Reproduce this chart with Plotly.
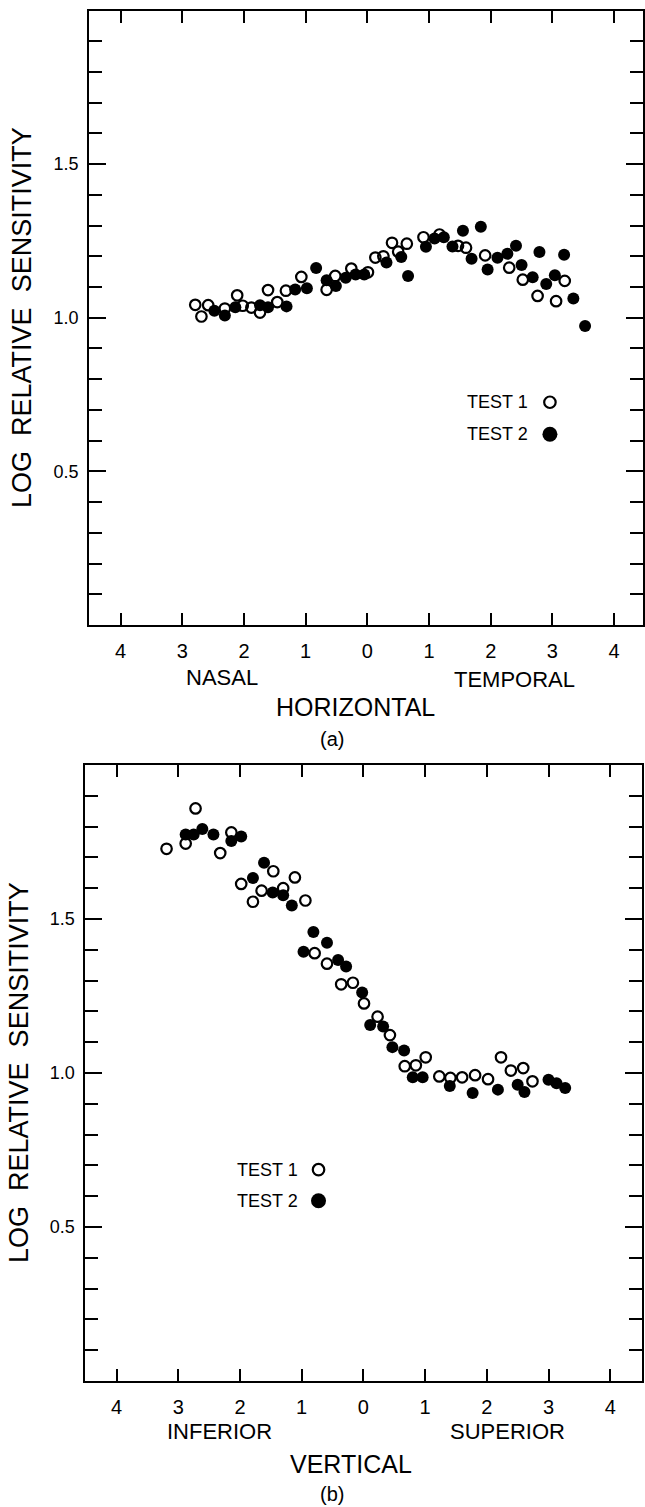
import plotly.graph_objects as go

# ---------------- data ----------------
# Panel (a): horizontal meridian (negative = nasal, positive = temporal), degrees
h_test1_x = [-2.79, -2.69, -2.58, -2.31, -2.11, -2.02, -1.88, -1.74, -1.61, -1.46, -1.32,
             -1.07, -0.66, -0.52, -0.26, 0.01, 0.13, 0.26, 0.40, 0.50, 0.64, 0.91, 1.17,
             1.47, 1.60, 1.91, 2.30, 2.52, 2.76, 3.06, 3.20]
h_test1_y = [1.042, 1.004, 1.041, 1.030, 1.073, 1.039, 1.033, 1.017, 1.090, 1.051, 1.088,
             1.133, 1.091, 1.136, 1.160, 1.148, 1.196, 1.200, 1.244, 1.215, 1.241, 1.262, 1.271,
             1.234, 1.228, 1.203, 1.163, 1.124, 1.071, 1.054, 1.120]
h_test2_x = [-2.48, -2.31, -2.14, -1.74, -1.61, -1.31, -1.17, -0.98, -0.83, -0.66, -0.51,
             -0.35, -0.19, -0.05, 0.31, 0.55, 0.66, 0.95, 1.09, 1.24, 1.38, 1.55, 1.69, 1.84,
             1.95, 2.11, 2.27, 2.41, 2.50, 2.68, 2.79, 2.90, 3.04, 3.19, 3.34, 3.53]
h_test2_y = [1.023, 1.007, 1.034, 1.041, 1.034, 1.037, 1.092, 1.096, 1.162, 1.122, 1.103,
             1.130, 1.141, 1.141, 1.180, 1.198, 1.136, 1.231, 1.258, 1.262, 1.232, 1.283, 1.192,
             1.296, 1.157, 1.195, 1.208, 1.234, 1.172, 1.132, 1.214, 1.110, 1.138, 1.205, 1.063,
             0.973]

# Panel (b): vertical meridian (negative = inferior, positive = superior), degrees
v_test1_x = [-3.19, -2.88, -2.72, -2.32, -2.14, -1.98, -1.79, -1.65, -1.46, -1.30, -1.11,
             -0.94, -0.79, -0.59, -0.36, -0.17, 0.01, 0.23, 0.43, 0.67, 0.85, 1.01, 1.23,
             1.41, 1.60, 1.81, 2.02, 2.23, 2.39, 2.59, 2.74]
v_test1_y = [1.728, 1.745, 1.859, 1.714, 1.781, 1.614, 1.556, 1.592, 1.655, 1.600, 1.635,
             1.560, 1.389, 1.355, 1.288, 1.293, 1.226, 1.183, 1.123, 1.022, 1.025, 1.051, 0.989,
             0.984, 0.986, 0.993, 0.980, 1.051, 1.008, 1.016, 0.973]
v_test2_x = [-2.88, -2.75, -2.61, -2.43, -2.14, -1.98, -1.79, -1.61, -1.47, -1.30, -1.16,
             -0.97, -0.81, -0.59, -0.41, -0.28, -0.02, 0.11, 0.32, 0.47, 0.66, 0.80, 0.96,
             1.40, 1.77, 2.18, 2.50, 2.61, 3.00, 3.13, 3.27]
v_test2_y = [1.774, 1.774, 1.792, 1.774, 1.753, 1.768, 1.633, 1.683, 1.586, 1.577, 1.544,
             1.394, 1.458, 1.423, 1.367, 1.346, 1.261, 1.156, 1.151, 1.084, 1.073, 0.986, 0.986,
             0.958, 0.935, 0.946, 0.962, 0.938, 0.978, 0.967, 0.951]

x_tickvals = [-4, -3, -2, -1, 0, 1, 2, 3, 4]
x_ticktext = ["4", "3", "2", "1", "0", "1", "2", "3", "4"]
y_tickvals = [0.5, 1.0, 1.5]
y_ticktext = ["0.5", "1.0", "1.5"]
y_minor = [round(i * 0.1, 1) for i in range(1, 20) if i not in (5, 10, 15)]

FONT = "Liberation Sans, Arial, sans-serif"
W, H = 645, 1507

fig = go.Figure()

def add_points(xs, ys, xa, ya, filled):
    fig.add_trace(go.Scatter(
        x=xs, y=ys, mode="markers", xaxis=xa, yaxis=ya, showlegend=False,
        cliponaxis=False, hoverinfo="skip",
        marker=dict(symbol="circle" if filled else "circle-open",
                    size=12 if filled else 10.5, color="black",
                    line=dict(color="black", width=0 if filled else 2.2)),
    ))

add_points(h_test2_x, h_test2_y, "x", "y", True)
add_points(h_test1_x, h_test1_y, "x", "y", False)
add_points(v_test2_x, v_test2_y, "x2", "y2", True)
add_points(v_test1_x, v_test1_y, "x2", "y2", False)

# legend symbols (inside each panel)
legend_a = dict(x=2.96, y1=0.725, y2=0.621, tx=2.63)
legend_b = dict(x=-0.727, y1=0.686, y2=0.585, tx=-1.03)
for leg, xa, ya in [(legend_a, "x", "y"), (legend_b, "x2", "y2")]:
    fig.add_trace(go.Scatter(x=[leg["x"]], y=[leg["y1"]], mode="markers", xaxis=xa, yaxis=ya,
                             showlegend=False, hoverinfo="skip",
                             marker=dict(symbol="circle-open", size=11.5, color="black",
                                         line=dict(width=2.2, color="black"))))
    fig.add_trace(go.Scatter(x=[leg["x"]], y=[leg["y2"]], mode="markers", xaxis=xa, yaxis=ya,
                             showlegend=False, hoverinfo="skip",
                             marker=dict(symbol="circle", size=15, color="black")))
    for yy, txt in [(leg["y1"], "TEST 1"), (leg["y2"], "TEST 2")]:
        fig.add_annotation(x=leg["tx"], y=yy, xref=xa, yref=ya, text=txt, showarrow=False,
                           xanchor="right", yanchor="middle",
                           font=dict(family=FONT, size=18, color="black"))

def xaxis_style(domain, rng):
    return dict(domain=domain, range=rng, showline=True, linewidth=2, linecolor="black",
                mirror="ticks", ticks="inside", ticklen=12, tickwidth=2, tickcolor="black",
                tickmode="array", tickvals=x_tickvals, ticktext=x_ticktext,
                showgrid=False, zeroline=False, ticklabelstandoff=7, fixedrange=True,
                tickfont=dict(family=FONT, size=20, color="black"))

def yaxis_style(domain, anchor):
    return dict(domain=domain, range=[0, 2.0], showline=True, linewidth=2, linecolor="black",
                mirror="ticks", ticks="inside", ticklen=17, tickwidth=2, tickcolor="black",
                tickmode="array", tickvals=y_tickvals, ticktext=y_ticktext,
                showgrid=False, zeroline=False, anchor=anchor, ticklabelstandoff=5,
                fixedrange=True,
                tickfont=dict(family=FONT, size=18, color="black"),
                minor=dict(tickmode="array", tickvals=y_minor, ticks="inside", ticklen=13,
                           tickwidth=2, tickcolor="black", showgrid=False))

fig.update_layout(
    width=W, height=H, margin=dict(l=0, r=0, t=0, b=0),
    paper_bgcolor="white", plot_bgcolor="white", showlegend=False,
    font=dict(family=FONT, color="black"),
    xaxis=dict(**xaxis_style([89.3 / W, 1.0], [-4.512, 4.469]), anchor="y"),
    yaxis=yaxis_style([1 - 625 / H, 1 - 10.5 / H], "x"),
    xaxis2=dict(**xaxis_style([85.6 / W, 644 / W], [-4.506, 4.515]), anchor="y2"),
    yaxis2=yaxis_style([1 - 1381 / H, 1 - 765 / H], "x2"),
)

def paper_text(txt, px, py, size, angle=0):
    fig.add_annotation(x=px / W, y=1 - py / H, xref="paper", yref="paper", text=txt,
                       showarrow=False, xanchor="center", yanchor="middle", textangle=angle,
                       font=dict(family=FONT, size=size, color="black"))

title = "LOG\u00a0\u00a0RELATIVE\u00a0\u00a0SENSITIVITY"
paper_text(title, 22, 317, 27, -90)
paper_text(title, 19, 1072, 27, -90)

paper_text("NASAL", 222.5, 677.5, 22)
paper_text("TEMPORAL", 516.5, 679, 22)
paper_text("HORIZONTAL", 357, 707, 25)
paper_text("(a)", 333, 739, 20)

paper_text("INFERIOR", 220, 1431, 22)
paper_text("SUPERIOR", 509.5, 1431.5, 22)
paper_text("VERTICAL", 352, 1464, 25)
paper_text("(b)", 333, 1494, 20)

fig.write_html(
    "out.html",
    config={"displayModeBar": False, "staticPlot": True},
    post_script="document.body.style.margin='0';document.body.style.padding='0';"
                "document.documentElement.style.overflow='hidden';"
                "document.body.style.overflow='hidden';",
)
